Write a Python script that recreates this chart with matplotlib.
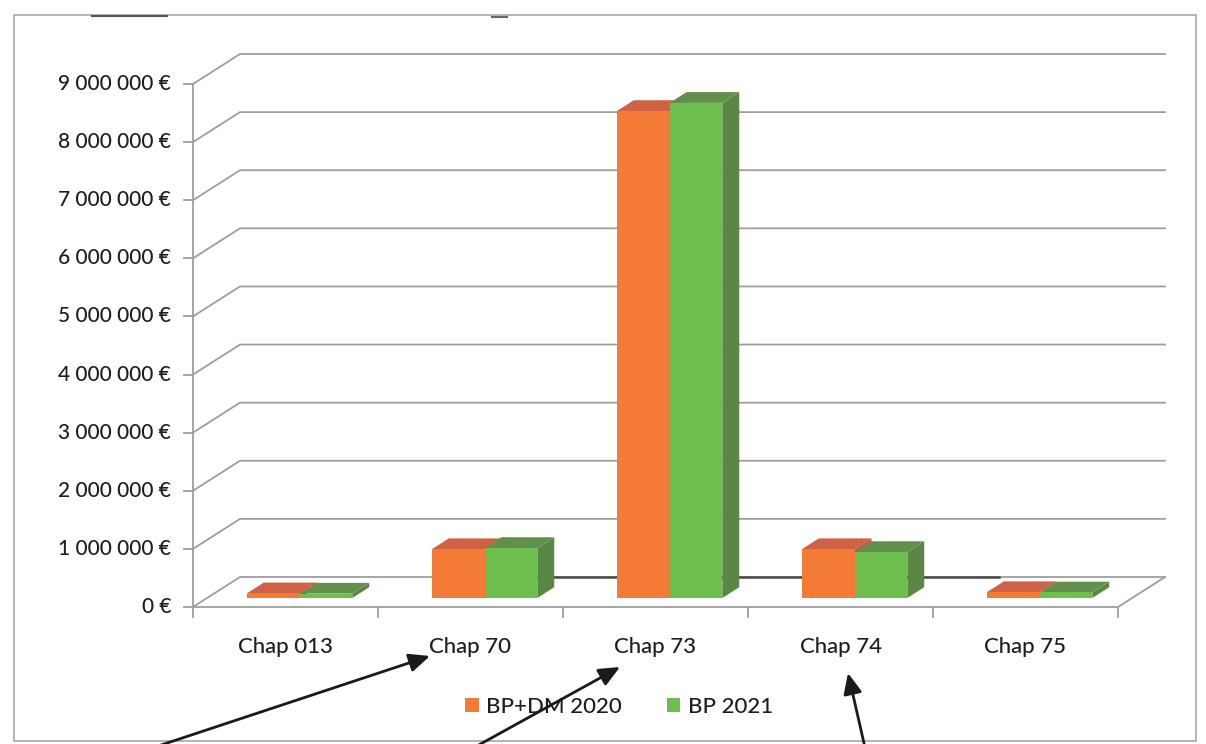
import matplotlib
matplotlib.use("Agg")
import matplotlib.pyplot as plt
import numpy as np
from matplotlib.patches import Polygon, Patch, Rectangle, FancyArrowPatch
from matplotlib.lines import Line2D
from matplotlib.transforms import IdentityTransform

# ---- data -------------------------------------------------------------
categories = ["Chap 013", "Chap 70", "Chap 73", "Chap 74", "Chap 75"]
series_names = ["BP+DM 2020", "BP 2021"]
bp_dm_2020 = [80_000, 840_000, 8_380_000, 840_000, 100_000]
bp_2021 = [75_000, 860_000, 8_520_000, 790_000, 95_000]
y_ticks = list(range(0, 9_000_001, 1_000_000))

# ---- style ------------------------------------------------------------
front_colors = ["#F47B36", "#6DBE4F"]
top_colors = ["#CF6145", "#62904C"]
side_colors = ["#C8583C", "#5A8746"]
grid_color = "#9E9E9E"
text_color = "#1E1E1E"
font = ["Lato", "DejaVu Sans"]
label_kw = dict(color=text_color, family=font, weight="medium")

W, H = 1206, 744
fig = plt.figure(figsize=(W / 100, H / 100), dpi=100)
fig.patch.set_facecolor("white")

# front plane of the 3-D box, in pixels
left_px, right_px = 193, 1118
zero_px, top_px = 607, 84
ax = fig.add_axes([left_px / W, (H - zero_px) / H,
                   (right_px - left_px) / W, (zero_px - top_px) / H])
ax.set_xlim(-0.5, len(categories) - 0.5)
ax.set_ylim(0, 9_000_000)
ax.axis("off")

depth = np.array([47.0, 30.0])  # pixel offset from front to back wall
ident = IdentityTransform()


def proj(x, v, d):
    p = ax.transData.transform((x, v))
    return p + d * depth


def line(points, **kw):
    pts = np.array(points)
    fig.add_artist(Line2D(pts[:, 0], pts[:, 1], transform=ident, **kw))


x_lo, x_hi = -0.5, len(categories) - 0.5

# back wall grid lines with their diagonals to the front axis
for v in y_ticks:
    line([proj(x_lo, v, 0), proj(x_lo, v, 1), proj(x_hi, v, 1)],
         color=grid_color, lw=1.3, zorder=1)

# floor
line([proj(x_lo, 0, 0), proj(x_hi, 0, 0), proj(x_hi, 0, 1)],
     color=grid_color, lw=1.3, zorder=1)
line([proj(1.15, 0, 1), proj(3.6, 0, 1)], color="#4A4A4A", lw=1.8, zorder=1)

# front vertical axis and its ticks
line([proj(x_lo, 0, 0), proj(x_lo, 9_000_000, 0)], color=grid_color, lw=1.3, zorder=1)
for v in y_ticks:
    p = proj(x_lo, v, 0)
    line([p, p - np.array([9, 0])], color=grid_color, lw=1.3, zorder=1)
    fig.text((p[0] - 22) / W, p[1] / H, f"{v:,.0f} €".replace(",", " "),
             ha="right", va="center", fontsize=15, **label_kw)

# category separators and labels
for k in range(len(categories) + 1):
    p = proj(x_lo + k, 0, 0)
    line([p, p - np.array([0, 10])], color=grid_color, lw=1.3, zorder=1)
for i, name in enumerate(categories):
    p = proj(i, 0, 0)
    fig.text(p[0] / W, (p[1] - 40) / H, name, ha="center", va="center",
             fontsize=16, **label_kw)

# 3-D bars
bar_w = 0.285
d0, d1 = 0.30, 0.66
for i in range(len(categories)):
    for s, values in enumerate([bp_dm_2020, bp_2021]):
        h = values[i]
        xa = i - bar_w + s * bar_w
        xb = xa + bar_w
        front = [proj(xa, 0, d0), proj(xb, 0, d0), proj(xb, h, d0), proj(xa, h, d0)]
        top = [proj(xa, h, d0), proj(xb, h, d0), proj(xb, h, d1), proj(xa, h, d1)]
        side = [proj(xb, 0, d0), proj(xb, 0, d1), proj(xb, h, d1), proj(xb, h, d0)]
        z = 3 + s
        fig.add_artist(Polygon(side, closed=True, transform=ident,
                               facecolor=side_colors[s], edgecolor="none", zorder=z))
        fig.add_artist(Polygon(top, closed=True, transform=ident,
                               facecolor=top_colors[s], edgecolor="none", zorder=z))
        fig.add_artist(Polygon(front, closed=True, transform=ident,
                               facecolor=front_colors[s], edgecolor="none", zorder=z))

# legend
handles = [Patch(facecolor=c, edgecolor="none") for c in front_colors]
leg = fig.legend(handles, series_names, loc="center", bbox_to_anchor=(619 / W, 1 - 707 / H),
                 ncol=2, frameon=False, handlelength=0.6, handleheight=0.6,
                 handletextpad=0.35, columnspacing=2.0,
                 prop={"family": font, "size": 16, "weight": "medium"})
for t in leg.get_texts():
    t.set_color(text_color)

# chart frame
fig.add_artist(Rectangle((14 / W, 3 / H), (1196 - 14) / W, (729 - 3) / H,
                         transform=fig.transFigure, fill=False,
                         edgecolor="#A8A8A8", lw=1.2, zorder=0))
line([(92, H - 16), (167, H - 16)], color="#555555", lw=1.5)
line([(492, H - 17), (507, H - 17)], color="#666666", lw=1.5)

# pointer arrows
for start, end in [((140, 752), (430, 656)), ((466, 752), (620, 667)), ((866, 752), (848, 673))]:
    fig.add_artist(FancyArrowPatch(
        (start[0], H - start[1]), (end[0], H - end[1]), transform=ident,
        arrowstyle="-|>,head_length=0.9,head_width=0.4", mutation_scale=14,
        color="#1A1A1A", lw=2.0, shrinkA=0, shrinkB=0, zorder=10))

fig.savefig("out.png", dpi=100, facecolor="white")
